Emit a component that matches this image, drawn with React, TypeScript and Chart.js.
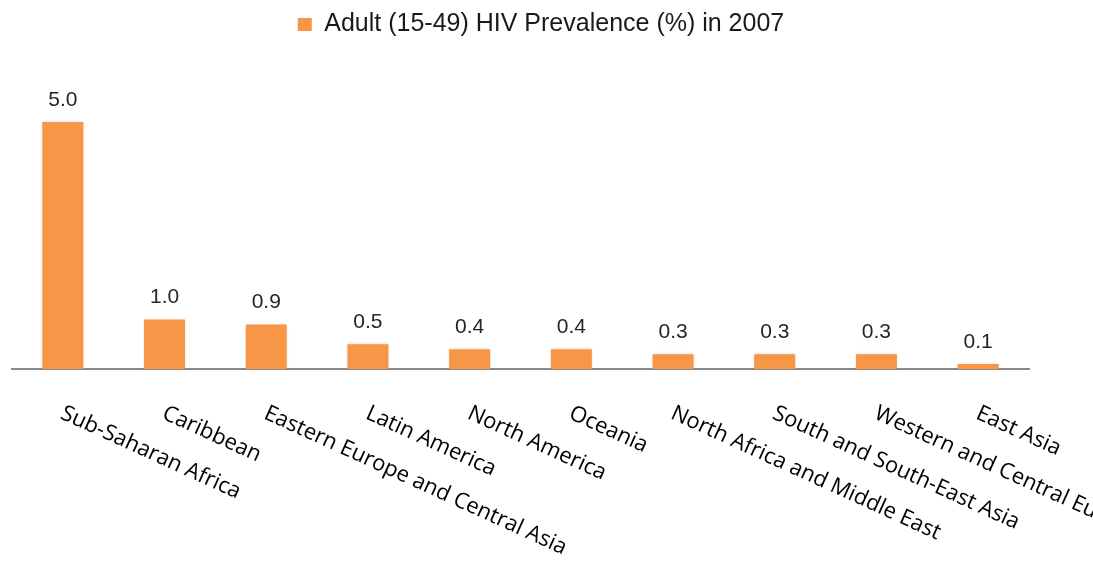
import React, { useEffect, useRef } from "react";
import { Chart, registerables } from "chart.js";

Chart.register(...registerables);

const regions: string[] = [
  "Sub-Saharan Africa",
  "Caribbean",
  "Eastern Europe and Central Asia",
  "Latin America",
  "North America",
  "Oceania",
  "North Africa and Middle East",
  "South and South-East Asia",
  "Western and Central Europe",
  "East Asia",
];

const prevalence: number[] = [5.0, 1.0, 0.9, 0.5, 0.4, 0.4, 0.3, 0.3, 0.3, 0.1];

const seriesLabel = "Adult (15-49) HIV Prevalence (%) in 2007";

const BAR_COLOR = "#F79646";
const LABEL_ANGLE = (24.5 * Math.PI) / 180;

// Soft grey shadow around the bars
const barShadow = {
  id: "barShadow",
  beforeDatasetsDraw(chart: any) {
    const ctx = chart.ctx;
    ctx.save();
    ctx.shadowColor = "rgba(0,0,0,0.16)";
    ctx.shadowBlur = 3;
    ctx.shadowOffsetX = 0;
    ctx.shadowOffsetY = 0;
  },
  afterDatasetsDraw(chart: any) {
    chart.ctx.restore();
  },
};

// Value labels above each bar
const valueLabels = {
  id: "valueLabels",
  afterDatasetsDraw(chart: any) {
    const ctx = chart.ctx;
    const meta = chart.getDatasetMeta(0);
    ctx.save();
    ctx.font = '21px "Liberation Sans", Arial, sans-serif';
    ctx.fillStyle = "#262626";
    ctx.textAlign = "center";
    ctx.textBaseline = "alphabetic";
    meta.data.forEach((bar: any, i: number) => {
      ctx.fillText(prevalence[i].toFixed(1), bar.x, bar.y - 16.5);
    });
    ctx.restore();
  },
};

// Category labels slanting down to the right from each tick
const slantedCategoryLabels = {
  id: "slantedCategoryLabels",
  afterDraw(chart: any) {
    const ctx = chart.ctx;
    const xScale = chart.scales.x;
    const baseY = xScale.top + 49;
    ctx.save();
    ctx.font = '22px "Open Sans", sans-serif';
    ctx.fillStyle = "#000000";
    ctx.textAlign = "left";
    ctx.textBaseline = "alphabetic";
    regions.forEach((name, i) => {
      const x = xScale.getPixelForValue(i);
      ctx.save();
      ctx.translate(x - 3.5, baseY);
      ctx.rotate(LABEL_ANGLE);
      ctx.fillText(name, 0, 0);
      ctx.restore();
    });
    ctx.restore();
  },
};

export default function App() {
  const canvasRef = useRef<HTMLCanvasElement | null>(null);

  useEffect(() => {
    if (!canvasRef.current) return;
    const chart = new Chart(canvasRef.current, {
      type: "bar",
      data: {
        labels: regions,
        datasets: [
          {
            label: seriesLabel,
            data: prevalence,
            backgroundColor: BAR_COLOR,
            borderWidth: 0,
            barPercentage: 0.403,
            categoryPercentage: 1,
          },
        ],
      },
      options: {
        responsive: false,
        animation: false,
        layout: { padding: { left: 12, right: 23, top: 2, bottom: 0 } },
        plugins: {
          legend: {
            display: true,
            position: "top",
            labels: {
              boxWidth: 14,
              boxHeight: 13,
              color: "#1a1a1a",
              font: { family: '"Liberation Sans", Arial, sans-serif', size: 25 },
            },
          },
          tooltip: { enabled: false },
        },
        scales: {
          x: {
            grid: { display: false },
            ticks: { display: false },
            border: { display: true, color: "#8a8a8a", width: 2 },
            afterFit(scale: any) {
              scale.height = 196;
            },
          },
          y: {
            position: "right",
            min: 0,
            max: 6.52,
            grid: { display: false },
            ticks: { display: false },
            border: { display: false },
            afterFit(scale: any) {
              scale.width = 41;
            },
          },
        },
      },
      plugins: [barShadow, valueLabels, slantedCategoryLabels],
    });
    return () => chart.destroy();
  }, []);

  return (
    <div style={{ position: "fixed", left: 0, top: 0, width: 1093, height: 565, background: "#ffffff" }}>
      <canvas ref={canvasRef} width={1093} height={565} style={{ display: "block" }} />
    </div>
  );
}
